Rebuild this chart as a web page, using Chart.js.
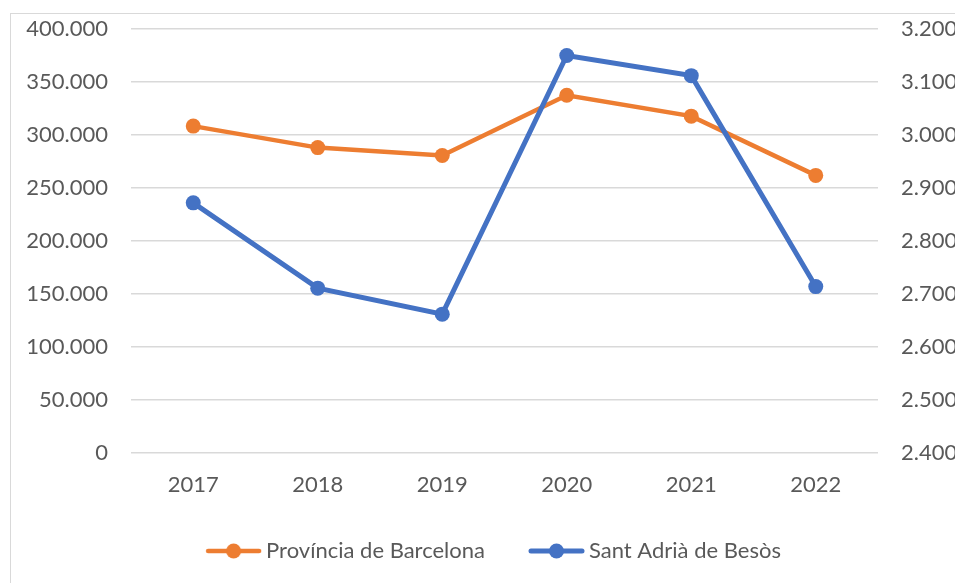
<!DOCTYPE html>
<html>
<head>
<meta charset="utf-8">
<script src="https://cdn.jsdelivr.net/npm/chart.js@4.4.0/dist/chart.umd.min.js"></script>
<style>
  html, body { margin: 0; padding: 0; background: #fff; overflow: hidden; }
</style>
</head>
<body>
<canvas id="chart" width="955" height="583"></canvas>
<script>
const years = ['2017', '2018', '2019', '2020', '2021', '2022']
const provincia = [308400, 288100, 280600, 337500, 317800, 261900]
const santAdria = [2872, 2711, 2662, 3150, 3112, 2714]
const leftTicks = [0, 50000, 100000, 150000, 200000, 250000, 300000, 350000, 400000]
const rightTicks = [2400, 2500, 2600, 2700, 2800, 2900, 3000, 3100, 3200]

const orange = '#ED7D31'
const blue = '#4472C4'
const textColor = '#595959'
const gridColor = '#d9d9d9'

// thousands with a dot, like the source
const fmt = (v) => String(v).replace(/\B(?=(\d{3})+(?!\d))/g, '.')

// legend marker: short line with a dot in the middle
const legendIcon = (color, width) => {
  const c = document.createElement('canvas')
  c.width = 57
  c.height = 18
  const ctx = c.getContext('2d')
  ctx.strokeStyle = color
  ctx.lineWidth = width
  ctx.lineCap = 'round'
  ctx.beginPath()
  ctx.moveTo(3, 9)
  ctx.lineTo(54, 9)
  ctx.stroke()
  ctx.fillStyle = color
  ctx.beginPath()
  ctx.arc(28.5, 9, 7.5, 0, Math.PI * 2)
  ctx.fill()
  return c
}
const legendIcons = [legendIcon(orange, 4.5), legendIcon(blue, 5)]

const frame = {
  id: 'frame',
  afterLayout: (chart) => {
    // legend in the source sits a bit right of centre and close under the axis
    chart.legend.left += 38
    chart.legend.top -= 11
  },
  beforeDraw: (chart) => {
    const ctx = chart.ctx
    ctx.save()
    ctx.strokeStyle = gridColor
    ctx.lineWidth = 1
    ctx.strokeRect(10.5, 13.5, 1000, 1000)
    ctx.restore()
  }
}

// label padding should not push the plot area down
const noEdgePad = (scale) => {
  scale.paddingTop = 0
  scale.paddingBottom = 0
}

Chart.defaults.font.family = 'Lato'
Chart.defaults.font.size = 22
Chart.defaults.color = textColor

new Chart(document.getElementById('chart'), {
  type: 'line',
  data: {
    labels: years,
    datasets: [
      {
        label: 'Província de Barcelona',
        data: provincia,
        yAxisID: 'y',
        borderColor: orange,
        backgroundColor: orange,
        borderWidth: 4.5,
        pointRadius: 7.5,
        pointBorderWidth: 0,
        pointBackgroundColor: orange,
        order: 1
      },
      {
        label: 'Sant Adrià de Besòs',
        data: santAdria,
        yAxisID: 'y1',
        borderColor: blue,
        backgroundColor: blue,
        borderWidth: 5,
        pointRadius: 7.5,
        pointBorderWidth: 0,
        pointBackgroundColor: blue,
        order: 0
      }
    ]
  },
  options: {
    responsive: false,
    animation: false,
    layout: { padding: { left: 0, right: 0, top: 29, bottom: 0 } },
    plugins: {
      tooltip: { enabled: false },
      legend: {
        position: 'bottom',
        labels: {
          usePointStyle: true,
          pointStyleWidth: 43,
          padding: 50,
          color: textColor,
          sort: (a, b) => a.datasetIndex - b.datasetIndex,
          generateLabels: (chart) =>
            Chart.defaults.plugins.legend.labels.generateLabels(chart).map(item => {
              item.pointStyle = legendIcons[item.datasetIndex]
              return item
            })
        }
      }
    },
    scales: {
      x: {
        offset: true,
        grid: { display: false },
        border: { display: false },
        ticks: { padding: 11 },
        afterFit: (scale) => { scale.height = 48 }
      },
      y: {
        position: 'left',
        min: 0,
        max: 400000,
        afterBuildTicks: (scale) => { scale.ticks = leftTicks.map(v => ({ value: v })) },
        afterFit: (scale) => { scale.width = 131; noEdgePad(scale) },
        grid: { color: gridColor, lineWidth: 1.5, drawTicks: false },
        border: { display: false },
        ticks: { padding: 23, callback: (v) => fmt(v) }
      },
      y1: {
        position: 'right',
        min: 2400,
        max: 3200,
        afterBuildTicks: (scale) => { scale.ticks = rightTicks.map(v => ({ value: v })) },
        afterFit: (scale) => { scale.width = 77; noEdgePad(scale) },
        grid: { drawOnChartArea: false, drawTicks: false },
        border: { display: false },
        ticks: { padding: 23, callback: (v) => fmt(v) }
      }
    }
  },
  plugins: [frame]
})
</script>
</body>
</html>
